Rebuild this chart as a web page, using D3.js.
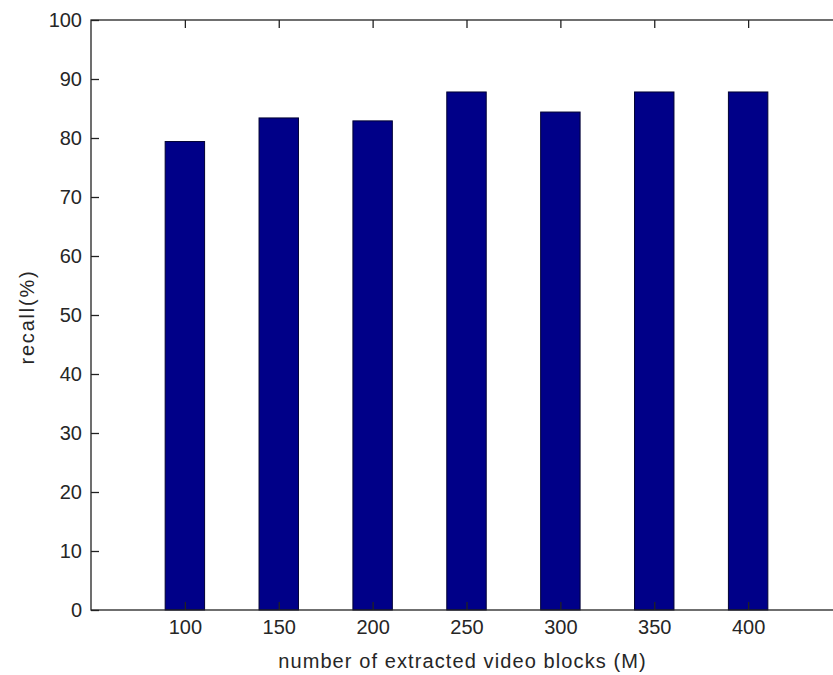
<html>
<head>
	<meta http-equiv="Content-Type" content="text/html; charset=utf-8" />
	<script src="https://cdn.jsdelivr.net/npm/d3@7/dist/d3.min.js" charset="utf-8"></script>
	
	<style type="text/css">
	body { 
		background-color: #FFFFFF; 
		margin: 0;
	}
	
	text {
		font-family: "Liberation Sans", Arial, sans-serif;
		fill: #262626;
	}
	</style>
</head>
<body>

	<svg width="833" height="675" version="1.1" xmlns="http://www.w3.org/2000/svg"></svg>
	
	<script type="text/javascript">
		/* 数据 */
		var v_Blocks  = [100 ,150 ,200 ,250 ,300 ,350 ,400];
		var v_Recall  = [79.4 ,83.4 ,82.9 ,87.8 ,84.4 ,87.8 ,87.8];
		var v_XTicks  = [100 ,150 ,200 ,250 ,300 ,350 ,400];
		var v_YTicks  = [0 ,10 ,20 ,30 ,40 ,50 ,60 ,70 ,80 ,90 ,100];
		
		var v_SVG = d3.select("svg");
		
		/* 绘图区 (右侧超出画布) */
		var v_Left   = 91;
		var v_Right  = 842;
		var v_Top    = 20;
		var v_Bottom = 610;
		
		var v_X = d3.scaleLinear().domain([50 ,450]).range([v_Left ,v_Right]);
		var v_Y = d3.scaleLinear().domain([0 ,100]).range([v_Bottom ,v_Top]);
		
		var v_BarW = v_X(71) - v_X(50);
		
		/* 柱 */
		v_SVG.selectAll(".bar")
		.data(v_Blocks)
		.enter()
		.append("rect")
		.attr("class" ,"bar")
		.attr("x" ,function(d) { return v_X(d) - v_BarW / 2; })
		.attr("y" ,function(d ,i) { return v_Y(v_Recall[i]); })
		.attr("width" ,v_BarW)
		.attr("height" ,function(d ,i) { return v_Bottom - v_Y(v_Recall[i]); })
		.attr("fill" ,"#000088")
		.attr("stroke" ,"#000033")
		.attr("stroke-width" ,"1");
		
		/* 坐标轴：刻度向内 */
		var v_AxisL = d3.axisLeft(v_Y).tickValues(v_YTicks).tickSize(-8).tickPadding(9);
		var v_AxisB = d3.axisBottom(v_X).tickValues(v_XTicks).tickSize(-8).tickPadding(10);
		var v_AxisT = d3.axisTop(v_X).tickValues(v_XTicks).tickSize(-8).tickFormat("");
		var v_AxisR = d3.axisRight(v_Y).tickValues(v_YTicks).tickSize(-8).tickFormat("");
		
		function styleAxis(i_G)
		{
			i_G.selectAll("line").attr("stroke" ,"#222").attr("stroke-width" ,"1.3");
			i_G.selectAll("text").attr("fill" ,"#262626").style("font-size" ,"20px")
			   .style("font-family" ,"\"Liberation Sans\", Arial, sans-serif");
			i_G.select(".domain").remove();
		}
		
		var v_GL = v_SVG.append("g").attr("transform" ,"translate(" + v_Left + ",0)").call(v_AxisL);
		var v_GB = v_SVG.append("g").attr("transform" ,"translate(0," + v_Bottom + ")").call(v_AxisB);
		var v_GT = v_SVG.append("g").attr("transform" ,"translate(0," + v_Top + ")").call(v_AxisT);
		var v_GR = v_SVG.append("g").attr("transform" ,"translate(" + v_Right + ",0)").call(v_AxisR);
		
		[v_GL ,v_GB ,v_GT ,v_GR].forEach(styleAxis);
		
		/* 边框 */
		v_SVG.append("rect")
		.attr("x" ,v_Left)
		.attr("y" ,v_Top)
		.attr("width" ,v_Right - v_Left)
		.attr("height" ,v_Bottom - v_Top)
		.attr("fill" ,"none")
		.attr("stroke" ,"#222")
		.attr("stroke-width" ,"1.3");
		
		/* 标题 */
		v_SVG.append("text")
		.attr("x" ,(v_Left + v_Right) / 2 - 4)
		.attr("y" ,668)
		.attr("text-anchor" ,"middle")
		.style("font-size" ,"20px")
		.style("letter-spacing" ,"1.1px")
		.text("number of extracted video blocks (M)");
		
		v_SVG.append("text")
		.attr("transform" ,"translate(34," + ((v_Top + v_Bottom) / 2 + 2) + ") rotate(-90)")
		.attr("text-anchor" ,"middle")
		.style("font-size" ,"20px")
		.style("letter-spacing" ,"1.8px")
		.text("recall(%)");
	</script>

</body>
</html>
